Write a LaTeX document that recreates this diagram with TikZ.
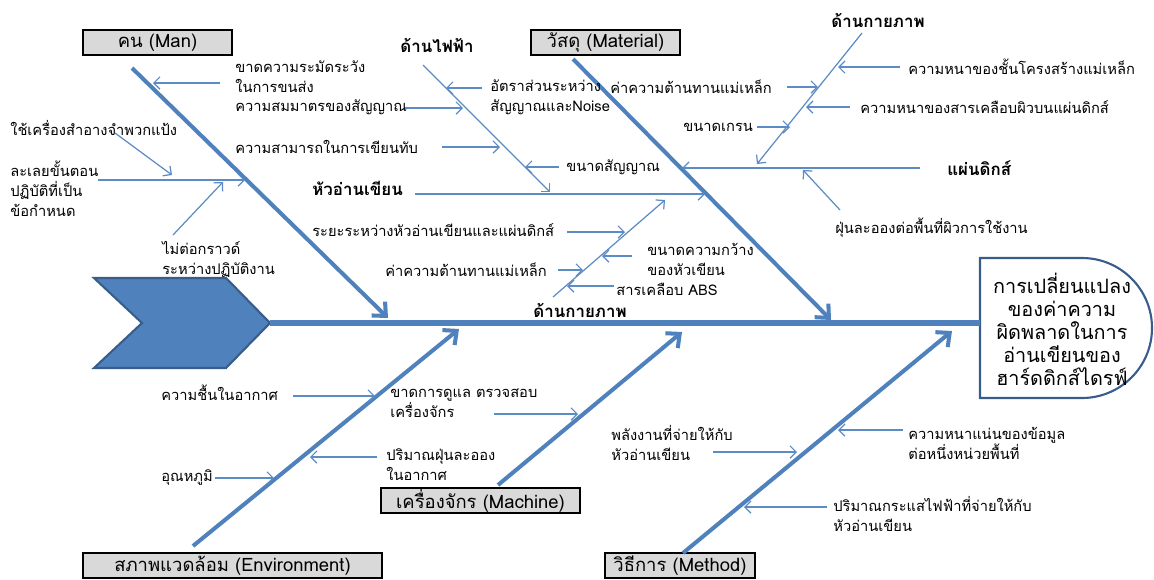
\documentclass[tikz,border=0pt]{standalone}
\usepackage{fontspec}
\setmainfont[Script=Thai]{Loma}
\usetikzlibrary{arrows.meta}
\definecolor{fishblue}{HTML}{4F81BD}
\definecolor{fishdark}{HTML}{385D8A}
\definecolor{twigblue}{HTML}{5C8BC6}
\definecolor{catgray}{HTML}{D9D9D9}
\newcommand{\fbsmall}{\fontsize{8.35}{11.4}\selectfont}
\newcommand{\fbside}{\fontsize{9.6}{10}\selectfont\bfseries}
\newcommand{\fbcat}{\fontsize{10.5}{12}\selectfont}
\newcommand{\fbhead}{\fontsize{11.3}{13.1}\selectfont}

\begin{document}
\begin{tikzpicture}[x=0.02cm,y=-0.02cm,
    bone/.style={draw=fishblue,line width=2.3pt,
      -{Straight Barb[length=6pt,width=11pt]}},
    twig/.style={draw=twigblue,line width=0.7pt,
      -{Straight Barb[length=3.5pt,width=7pt]}},
    causetext/.style={anchor=west,inner sep=0pt,align=left,font=\fbsmall},
    sidehead/.style={inner sep=0pt,font=\fbside},
    catbox/.style={draw=black,fill=catgray,line width=1.2pt,
      minimum height=0.5cm,inner sep=0pt,font=\fbcat}]
  \useasboundingbox (0,0) rectangle (1154,579);

  % head of the fish
  \draw[fill=fishblue,draw=fishdark,line width=1.2pt]
    (94,278) -- (226,278) -- (270,323) -- (226,368) -- (94,368)
    -- (142,323) -- cycle;
  \coordinate (tip) at (270,323);
  \coordinate (headin) at (980,323);
  \draw[draw=fishdark,fill=white,line width=1.2pt]
    (980,258) -- (1082,258) arc[start angle=-90,end angle=90,radius=70]
    -- (980,398) -- cycle;
  \node (effect) at (1062,329) [align=center,inner sep=0pt,font=\fbhead]
    {การเปลี่ยนแปลง\\ของค่าความ\\ผิดพลาดในการ\\อ่านเขียนของ\\ฮาร์ดดิกส์ไดรฟ์};
  \draw[draw=fishblue,line width=3.4pt] (tip) -- (headin);

  % categories
  \node (man) at (157.5,42.5) [catbox,minimum width=2.98cm] {คน (Man)};
  \node (mat) at (605.5,42.5) [catbox,minimum width=2.98cm] {วัสดุ (Material)};
  \node (mach) at (480.5,500.5) [catbox,minimum width=3.98cm] {เครื่องจักร (Machine)};
  \node (env) at (232.5,565.5) [catbox,minimum width=5.98cm] {สภาพแวดล้อม (Environment)};
  \node (meth) at (680,565.5) [catbox,minimum width=3cm] {วิธีการ (Method)};

  \coordinate (manA) at (132,68);
  \coordinate (manB) at (388,318);
  \coordinate (matA) at (573,59);
  \coordinate (matB) at (831,320);
  \coordinate (envA) at (193,546);
  \coordinate (envB) at (459,329);
  \coordinate (machA) at (498,485);
  \coordinate (machB) at (682,332);
  \coordinate (methA) at (683,553);
  \coordinate (methB) at (952,331);
  \draw[bone] (manA) -- (manB);
  \draw[bone] (matA) -- (matB);
  \draw[bone] (envA) -- (envB);
  \draw[bone] (machA) -- (machB);
  \draw[bone] (methA) -- (methB);

  % man
  \node (care) at (235,77) [causetext] {ขาดความระมัดระวัง\\ในการขนส่ง};
  \draw[twig] (220,83) -- (153,83);
  \node (powder) at (10,128) [causetext] {ใช้เครื่องสำอางจำพวกแป้ง};
  \draw[twig] (115,133) -- (172,175);
  \node (skip) at (10,189) [causetext] {ละเลยขั้นตอน\\ปฏิบัติที่เป็น\\ข้อกำหนด};
  \draw[twig] (98,180) -- (245,180);
  \node (ground) at (162,259) [causetext] {ไม่ต่อกราวด์\\ระหว่างปฏิบัติงาน};
  \draw[twig] (173,235) -- (223,182);

  % electrical
  \node (elec) at (437,45) [sidehead] {ด้านไฟฟ้า};
  \coordinate (elecA) at (423,65);
  \coordinate (elecB) at (550,192);
  \draw[twig] (elecA) -- (elecB);
  \node (sym) at (235,107) [causetext] {ความสมมาตรของสัญญาณ};
  \draw[twig] (405,108) -- (463,108);
  \node (over) at (235,147) [causetext] {ความสามารถในการเขียนทับ};
  \draw[twig] (442,147) -- (500,147);
  \node (snr) at (490,97) [causetext] {อัตราส่วนระหว่าง\\สัญญาณและNoise};
  \draw[twig] (482,88) -- (446,88);
  \node (sig) at (566,167) [causetext] {ขนาดสัญญาณ};
  \draw[twig] (559,167) -- (525,167);

  % read/write head
  \node (rw) at (312,188) [sidehead,anchor=west] {หัวอ่านเขียน};
  \coordinate (rwA) at (415,194);
  \coordinate (rwB) at (705,194);
  \draw[twig] (rwA) -- (rwB);
  \node (gap) at (312,230) [causetext] {ระยะระหว่างหัวอ่านเขียนและแผ่นดิกส์};
  \draw[twig] (567,232) -- (625,232);
  \node (coer) at (385,270) [causetext] {ค่าความต้านทานแม่เหล็ก};
  \draw[twig] (558,270) -- (583,270);
  \node (width) at (647,259) [causetext] {ขนาดความกว้าง\\ของหัวเขียน};
  \draw[twig] (632,256) -- (602,256);
  \node (abs) at (616,289) [causetext] {สารเคลือบ ABS};
  \draw[twig] (614,286) -- (567,286);
  \node (physlo) at (580,310) [sidehead] {ด้านกายภาพ};
  \coordinate (physloA) at (553,297);
  \coordinate (physloB) at (665,200);
  \draw[twig] (physloA) -- (physloB);

  % disk
  \node (physup) at (878,20) [sidehead] {ด้านกายภาพ};
  \coordinate (physupA) at (862,33);
  \coordinate (physupB) at (757,164);
  \draw[twig] (physupA) -- (physupB);
  \node (coer2) at (610,87) [causetext] {ค่าความต้านทานแม่เหล็ก};
  \draw[twig] (787,87) -- (818,87);
  \node (grain) at (683,127) [causetext] {ขนาดเกรน};
  \draw[twig] (757,127) -- (790,127);
  \node (layer) at (908,67) [causetext] {ความหนาของชั้นโครงสร้างแม่เหล็ก};
  \draw[twig] (900,67) -- (838,67);
  \node (coat) at (860,107) [causetext] {ความหนาของสารเคลือบผิวบนแผ่นดิกส์};
  \draw[twig] (850,107) -- (806,107);
  \node (disk) at (947,168) [sidehead,anchor=west] {แผ่นดิกส์};
  \coordinate (diskA) at (920,168);
  \coordinate (diskB) at (682,168);
  \draw[twig] (diskA) -- (diskB);
  \node (dust) at (835,228) [causetext] {ฝุ่นละอองต่อพื้นที่ผิวการใช้งาน};
  \draw[twig] (840,210) -- (803,170);

  % environment
  \node (humid) at (161,393) [causetext] {ความชื้นในอากาศ};
  \draw[twig] (293,396) -- (375,396);
  \node (temp) at (161,478) [causetext] {อุณหภูมิ};
  \draw[twig] (215,478) -- (274,478);
  \node (airdust) at (386,465) [causetext] {ปริมาณฝุ่นละออง\\ในอากาศ};
  \draw[twig] (377,457) -- (310,457);

  % machine
  \node (maint) at (390,403) [causetext] {ขาดการดูแล ตรวจสอบ\\เครื่องจักร};
  \draw[twig] (494,414) -- (578,414);

  % method
  \node (energy) at (611,443) [causetext] {พลังงานที่จ่ายให้กับ\\หัวอ่านเขียน};
  \draw[twig] (713,452) -- (797,452);
  \node (dens) at (908,443) [causetext] {ความหนาแน่นของข้อมูล\\ต่อหนึ่งหน่วยพื้นที่};
  \draw[twig] (903,430) -- (838,430);
  \node (curr) at (833,514) [causetext] {ปริมาณกระแสไฟฟ้าที่จ่ายให้กับ\\หัวอ่านเขียน};
  \draw[twig] (827,507) -- (744,507);
\end{tikzpicture}
\end{document}
